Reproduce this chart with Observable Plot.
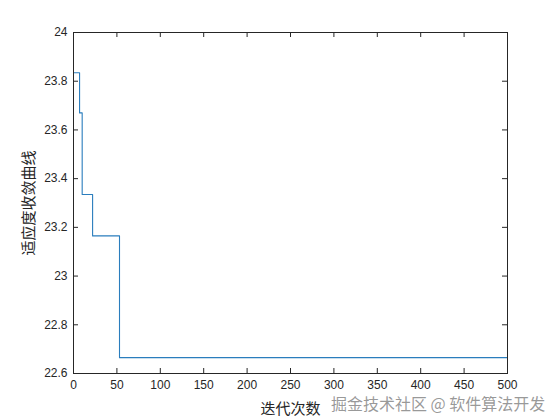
<!DOCTYPE html>
<html>
<head>
<meta charset="utf-8">
<script src="https://cdn.jsdelivr.net/npm/d3@7"></script>
<script src="https://cdn.jsdelivr.net/npm/@observablehq/plot@0.6"></script>
<style>
  html, body { margin: 0; padding: 0; background: #fff; }
  #wrap { position: relative; width: 560px; height: 420px; }
  #wm { position: absolute; left: 331px; top: 395px; font: 16px/16px "Noto Sans CJK SC", sans-serif; color: rgba(120,120,120,0.75); white-space: nowrap; text-shadow: 0 0 2px #fff; }
</style>
</head>
<body>
<div id="wrap"><div id="wm">掘金技术社区 @ 软件算法开发</div></div>
<script>
// Step points of the convergence curve (iteration where the value starts, fitness)
const iterations = [0, 7, 10, 22, 53, 500];
const fitness = [23.835, 23.67, 23.335, 23.165, 22.665, 22.665];
const xTicks = [0, 50, 100, 150, 200, 250, 300, 350, 400, 450, 500];
const yTicks = [22.6, 22.8, 23, 23.2, 23.4, 23.6, 23.8, 24];
const xLabel = "迭代次数";
const yLabel = "适应度收敛曲线";

const data = iterations.map((x, i) => ({x, y: fitness[i]}));

const W = 560, H = 420;
const mL = 73, mR = 53, mT = 32, mB = 47;
const innerW = W - mL - mR, innerH = H - mT - mB;
const tk = 5;
const axisColor = "#262626";

const chart = Plot.plot({
  width: W, height: H,
  marginLeft: mL, marginRight: mR, marginTop: mT, marginBottom: mB,
  style: {fontFamily: "'Liberation Sans', Arial, sans-serif", fontSize: "12px", color: axisColor, background: "#fff"},
  x: {domain: [0, 500]},
  y: {domain: [22.6, 24]},
  marks: [
    Plot.lineY(data, {x: "x", y: "y", curve: "step-after", stroke: "#2a7dbd", strokeWidth: 1.1}),
    Plot.frame({stroke: axisColor, strokeWidth: 1}),
    // inward ticks on all four sides
    Plot.tickX(xTicks, {x: d => d, insetTop: innerH - tk, stroke: axisColor}),
    Plot.tickX(xTicks, {x: d => d, insetBottom: innerH - tk, stroke: axisColor}),
    Plot.tickY(yTicks, {y: d => d, insetRight: innerW - tk, stroke: axisColor}),
    Plot.tickY(yTicks, {y: d => d, insetLeft: innerW - tk, stroke: axisColor}),
    Plot.axisX(xTicks, {tickSize: 0, tickPadding: 7, label: xLabel, labelAnchor: "center", labelArrow: "none", labelOffset: 40, fontSize: 12, tickFormat: d => String(d)}),
    Plot.axisY(yTicks, {tickSize: 0, tickPadding: 6, label: yLabel, labelAnchor: "center", labelArrow: "none", labelOffset: 50, tickFormat: d => String(+d.toFixed(1))})
  ]
});
chart.querySelectorAll("[aria-label='x-axis label'] text, [aria-label='y-axis label'] text").forEach(t => {
  t.style.fontFamily = "'Noto Sans CJK SC', sans-serif";
  t.style.fontSize = "15px";
});
document.getElementById("wrap").prepend(chart);
</script>
</body>
</html>
